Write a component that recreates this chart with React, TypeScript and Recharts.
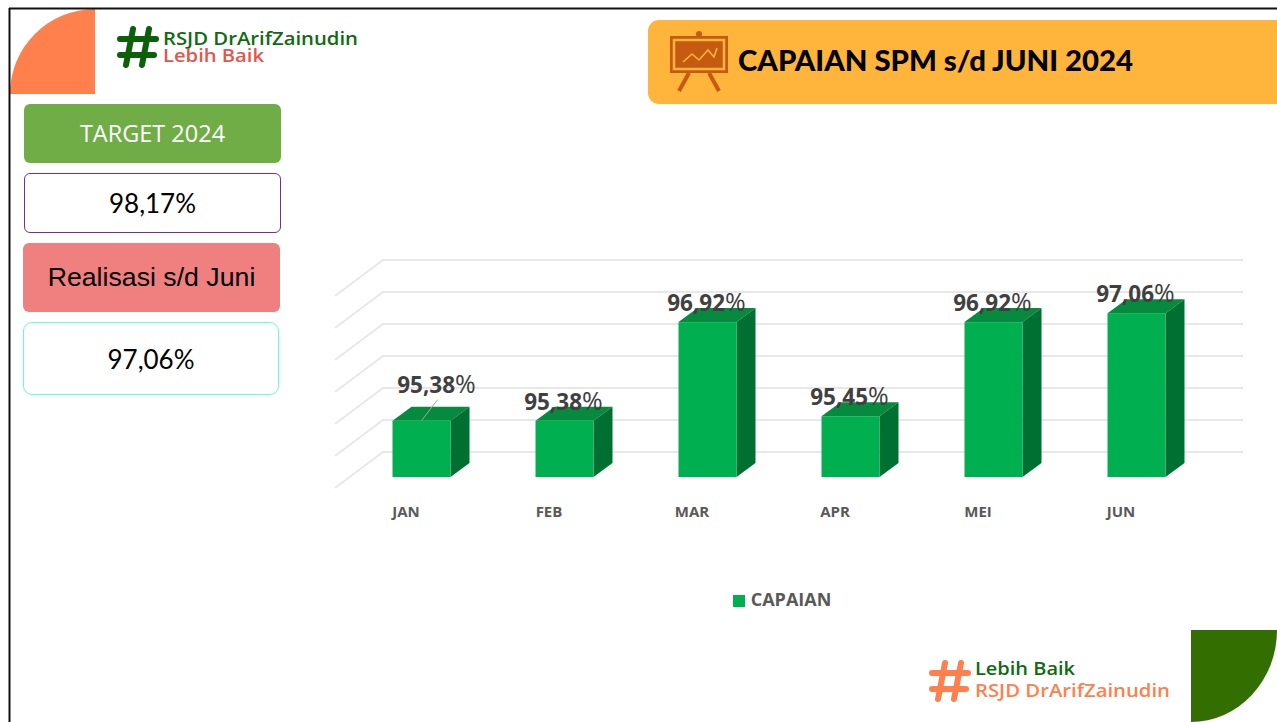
import { Bar, BarChart, CartesianGrid, LabelList, Legend, XAxis, YAxis } from "recharts";

const months = ["JAN", "FEB", "MAR", "APR", "MEI", "JUN"];
const capaian = [95.38, 95.38, 96.92, 95.45, 96.92, 97.06];
const gridTicks = [94.5, 95, 95.5, 96, 96.5, 97, 97.5];

const rows = months.map((month, i) => ({ month, capaian: capaian[i] }));

const fmt = (v: number) => v.toFixed(2).replace(".", ",");

// fake 3D column like the PowerPoint one
function Bar3D({ x, y, width, height }: any) {
  const dx = 19;
  const dy = 14;
  const r = x + width;
  const b = y + height;
  return (
    <g>
      <polygon points={`${x},${y} ${x + dx},${y - dy} ${r + dx},${y - dy} ${r},${y}`} fill="#058A3E" />
      <polygon points={`${r},${y} ${r + dx},${y - dy} ${r + dx},${b - dy} ${r},${b}`} fill="#006F32" />
      <rect x={x} y={y} width={width} height={height} fill="#00B050" />
    </g>
  );
}

// wall + floor gridline
function Grid3D({ x1, x2, y1 }: any) {
  return (
    <polyline
      points={`${x1 - 14.5},${y1 + 11} ${x1 + 33.5},${y1 - 25} ${x2 + 35.5},${y1 - 25}`}
      fill="none"
      stroke="#E8E8E8"
      strokeWidth={2}
    />
  );
}

function ValueLabel({ x, y, width, value, index }: any) {
  const moved = index === 0;
  const cx = x + width / 2 + (moved ? 15 : -1);
  const by = y + (moved ? -28 : -11);
  return (
    <g>
      {moved && <line x1={x + width / 2} y1={y} x2={x + width / 2 + 16} y2={y - 21} stroke="#A6A6A6" strokeWidth={1} />}
      <text x={cx} y={by} textAnchor="middle" fontFamily="'Open Sans'" fontSize={22.5} fontWeight={700} fill="#404040">
        {fmt(value)}
        <tspan fontWeight={400} fontSize={25}>%</tspan>
      </text>
    </g>
  );
}

function MonthTick({ x, y, payload }: any) {
  return (
    <text x={x - 15} y={y + 32} textAnchor="middle" fontFamily="'Open Sans'" fontSize={15} fontWeight={700} fill="#595959">
      {payload.value}
    </text>
  );
}

function Hash({ x, y, color }: { x: number; y: number; color: string }) {
  return (
    <g transform={`translate(${x},${y})`} stroke={color} strokeWidth={6} strokeLinecap="round" fill="none">
      <line x1={16} y1={3} x2={9} y2={39} />
      <line x1={32} y1={3} x2={25} y2={39} />
      <line x1={3} y1={13} x2={39} y2={13} />
      <line x1={3} y1={29} x2={37} y2={29} />
    </g>
  );
}

const box = (left: number, top: number, w: number, h: number, extra: any) => ({
  position: "absolute" as const,
  left,
  top,
  width: w,
  height: h,
  boxSizing: "border-box" as const,
  display: "flex",
  alignItems: "center",
  justifyContent: "center",
  borderRadius: 6,
  ...extra,
});

export default function App() {
  return (
    <div style={{ position: "absolute", left: 0, top: 0, width: 1277, height: 722, overflow: "hidden", background: "#fff" }}>
      <svg width={1277} height={722} style={{ position: "absolute", left: 0, top: 0 }}>
        <path d="M10 94 A85 85 0 0 1 95 9 L95 94 Z" fill="#FF7F4D" />
        <path d="M1191 630 L1277 630 A86 92 0 0 1 1191 722 Z" fill="#336F00" />
        <line x1={9} y1={8.5} x2={1277} y2={8.5} stroke="#111" strokeWidth={2} />
        <line x1={9.5} y1={8} x2={9.5} y2={722} stroke="#111" strokeWidth={2} />

        <Hash x={117} y={26} color="#0B6009" />
        <text x={163} y={45} fontFamily="'Open Sans'" fontWeight={600} fontSize={18} fill="#0F6B0F" textLength={195} lengthAdjust="spacingAndGlyphs">
          RSJD DrArifZainudin
        </text>
        <text x={163} y={62} fontFamily="'Open Sans'" fontWeight={600} fontSize={18} fill="#E2574C" textLength={101} lengthAdjust="spacingAndGlyphs">
          Lebih Baik
        </text>

        <Hash x={929} y={660} color="#FF7F4D" />
        <text x={975} y={675} fontFamily="'Open Sans'" fontWeight={600} fontSize={18} fill="#0F6B0F" textLength={100} lengthAdjust="spacingAndGlyphs">
          Lebih Baik
        </text>
        <text x={975} y={697} fontFamily="'Open Sans'" fontWeight={600} fontSize={18} fill="#FF7F4D" textLength={195} lengthAdjust="spacingAndGlyphs">
          RSJD DrArifZainudin
        </text>

        <rect x={648} y={20} width={660} height={84} rx={11} fill="#FFB43C" />
        <g>
          <circle cx={699} cy={34} r={3} fill="#C55A11" />
          <rect x={670} y={36} width={58} height={37} fill="#C55A11" />
          <rect x={674} y={40} width={50} height={29} fill="#C55A11" stroke="#FFB43C" strokeWidth={2.5} />
          <polyline points="683,62 692,54 699,60 708,50 714,57 717,48" fill="none" stroke="#FFB43C" strokeWidth={1.6} />
          <line x1={689} y1={73} x2={679} y2={91} stroke="#C55A11" strokeWidth={4} />
          <line x1={709} y1={73} x2={719} y2={91} stroke="#C55A11" strokeWidth={4} />
        </g>
        <text x={738} y={71} fontFamily="Lato" fontWeight={900} fontSize={29} fill="#000" textLength={395} lengthAdjust="spacingAndGlyphs">
          CAPAIAN SPM s/d JUNI 2024
        </text>
      </svg>

      <div style={box(24, 104, 257, 59, { background: "#70AD47", color: "#fff", fontFamily: "'Open Sans'", fontSize: 23.5, paddingBottom: 2 })}>TARGET 2024</div>
      <div style={box(24, 173, 257, 60, { border: "1px solid #7030A0", color: "#000", fontFamily: "Lato", fontSize: 26 })}>98,17%</div>
      <div style={box(23, 243, 257, 69, { background: "#F08080", color: "#000", fontFamily: "'Liberation Sans'", fontSize: 26.7 })}>Realisasi s/d Juni</div>
      <div style={box(23, 322, 256, 73, { border: "1px solid #66FFCC", borderRadius: 9, color: "#000", fontFamily: "Lato", fontSize: 26 })}>97,06%</div>

      <div style={{ position: "absolute", left: 0, top: 0 }}>
        <BarChart width={1277} height={722} data={rows} margin={{ top: 285, right: 69.5, bottom: 215, left: 349.5 }}>
          <CartesianGrid vertical={false} horizontal={<Grid3D />} horizontalValues={gridTicks} />
          <YAxis hide domain={[94.5, 97.5]} ticks={gridTicks} allowDataOverflow />
          <XAxis dataKey="month" height={30} axisLine={false} tickLine={false} tick={<MonthTick />} interval={0} />
          <Legend
            layout="horizontal"
            verticalAlign="middle"
            align="center"
            iconType="square"
            iconSize={12}
            wrapperStyle={{ left: 712, top: 587, width: 150, fontFamily: "'Open Sans'", fontSize: 18, fontWeight: 700 }}
            formatter={(v: string) => <span style={{ color: "#595959", marginLeft: 2 }}>{v}</span>}
          />
          <Bar dataKey="capaian" name="CAPAIAN" fill="#00B050" barSize={58} shape={<Bar3D />} isAnimationActive={false}>
            <LabelList dataKey="capaian" content={<ValueLabel />} />
          </Bar>
        </BarChart>
      </div>
    </div>
  );
}
